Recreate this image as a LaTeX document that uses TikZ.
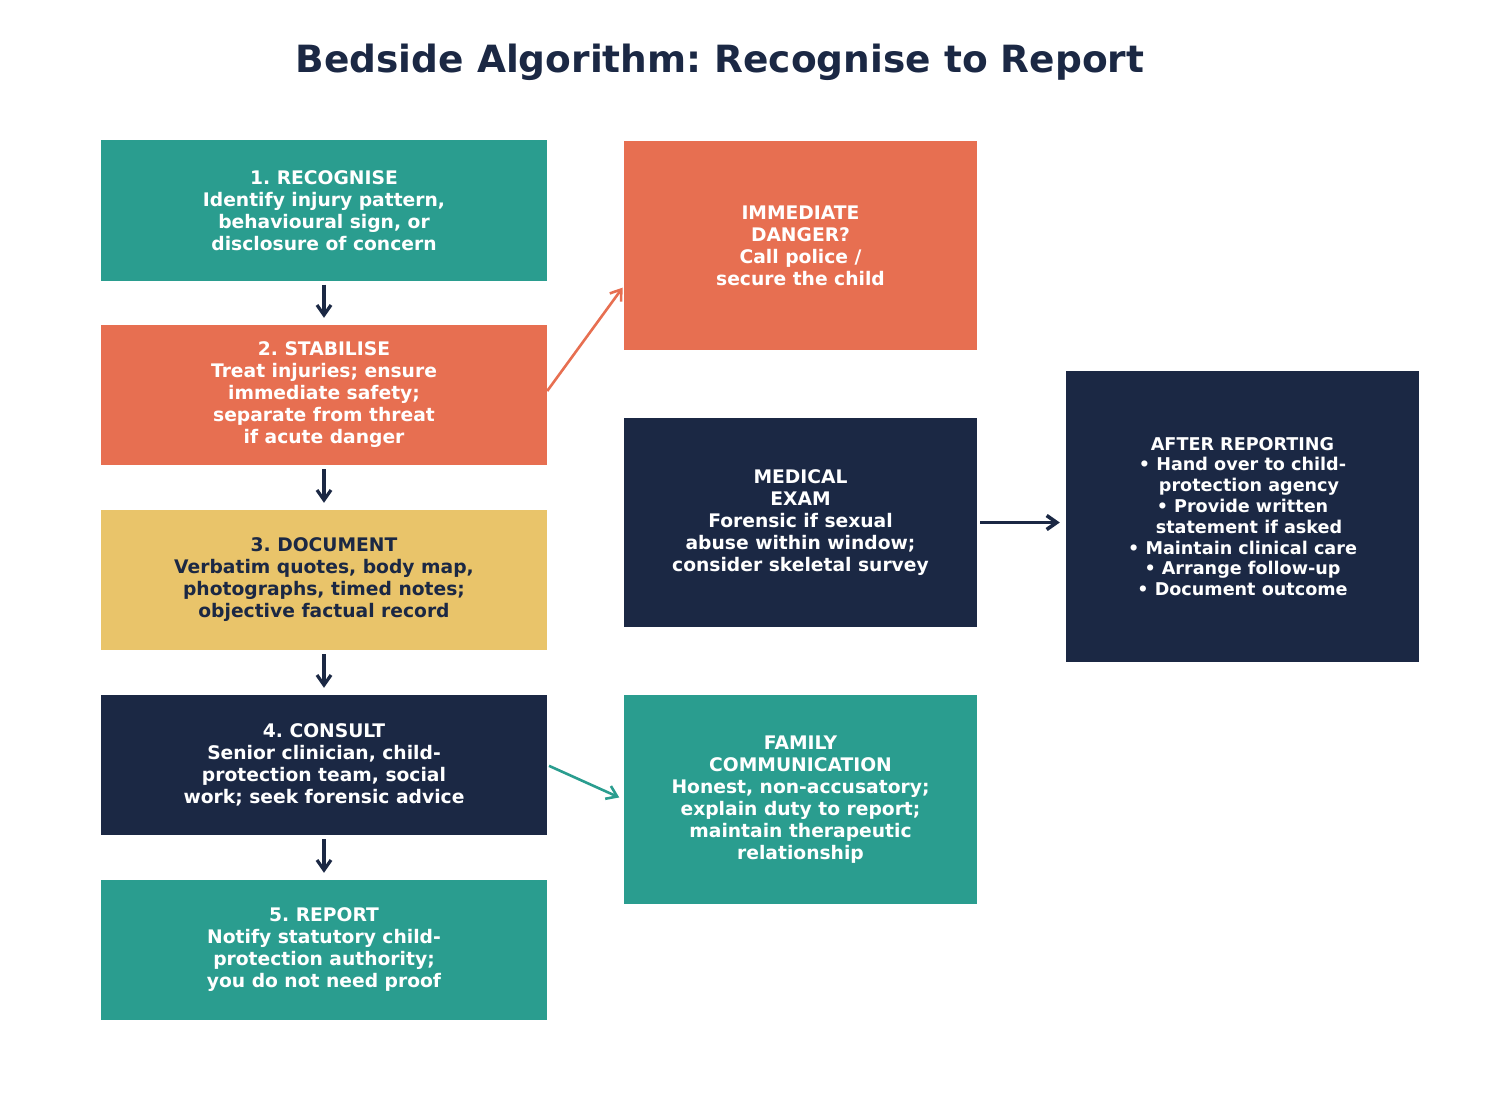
\documentclass[tikz,border=0pt]{standalone}
\usepackage{fontspec}
\setmainfont{DejaVu Sans}
\frenchspacing
\usetikzlibrary{arrows.meta,positioning}
\definecolor{Verde}{HTML}{2A9D8F}
\definecolor{Naranja}{HTML}{E76F51}
\definecolor{Amarillo}{HTML}{E9C46A}
\definecolor{Marino}{HTML}{1B2844}

\begin{document}
\begin{tikzpicture}[x=1pt,y=-1pt,
    caja/.style={inner sep=0pt,minimum width=446pt,minimum height=140pt,align=center,text=white,font=\fontsize{18.7}{22}\selectfont\bfseries},
    lateral/.style={caja,minimum width=353pt,minimum height=209pt},
    flecha/.style={-{Straight Barb[length=10pt,width=14pt]},line width=3.2pt,Marino}]
        \useasboundingbox (0,0) rectangle (1485,1110);
        \node[text=Marino,font=\fontsize{37.5}{42}\selectfont\bfseries] (titulo) at (720,62) {Bedside Algorithm: Recognise to Report};
        % left column
        \node[caja,fill=Verde] (a) at (324,210.5) {1. RECOGNISE\\Identify injury pattern,\\behavioural sign, or\\disclosure of concern};
        \node[caja,fill=Naranja] (b) at (324,395) {2. STABILISE\\Treat injuries; ensure\\immediate safety;\\separate from threat\\if acute danger};
        \node[caja,fill=Amarillo,text=Marino] (c) at (324,580) {3. DOCUMENT\\Verbatim quotes, body map,\\photographs, timed notes;\\objective factual record};
        \node[caja,fill=Marino] (d) at (324,765) {4. CONSULT\\Senior clinician, child-\\protection team, social\\work; seek forensic advice};
        \node[caja,fill=Verde] (e) at (324,950) {5. REPORT\\Notify statutory child-\\protection authority;\\you do not need proof};
        % middle column
        \node[lateral,fill=Naranja] (peligro) at (800.5,245.5) {IMMEDIATE\\DANGER?\\Call police /\\secure the child};
        \node[lateral,fill=Marino] (examen) at (800.5,522.5) {MEDICAL\\EXAM\\Forensic if sexual\\abuse within window;\\consider skeletal survey};
        \node[lateral,fill=Verde] (familia) at (800.5,799.5) {FAMILY\\COMMUNICATION\\Honest, non-accusatory;\\explain duty to report;\\maintain therapeutic\\relationship};
        % right column
        \node[caja,fill=Marino,minimum width=353pt,minimum height=291pt,font=\fontsize{17.6}{20.8}\selectfont\bfseries] (despues) at (1242.5,516.5) {AFTER REPORTING\\• Hand over to child-\\\hspace*{13pt}protection agency\\• Provide written\\\hspace*{13pt}statement if asked\\• Maintain clinical care\\• Arrange follow-up\\• Document outcome};
        \draw[flecha,shorten <=4pt,shorten >=7pt] (a) -- (b);
        \draw[flecha,shorten <=4pt,shorten >=7pt] (b) -- (c);
        \draw[flecha,shorten <=4pt,shorten >=7pt] (c) -- (d);
        \draw[flecha,shorten <=4pt,shorten >=7pt] (d) -- (e);
        \draw[flecha,Naranja,line width=2.6pt,shorten >=2pt] ([yshift=4pt]b.east) -- ([yshift=-40.5pt]peligro.west);
        \draw[flecha,Verde,line width=2.6pt,shorten <=2pt,shorten >=5pt] (d.east) -- (familia.west);
        \draw[flecha,line width=3.6pt,shorten <=3pt,shorten >=6pt] (examen.east) -- (examen.east -| despues.west);
      \end{tikzpicture}
\end{document}
